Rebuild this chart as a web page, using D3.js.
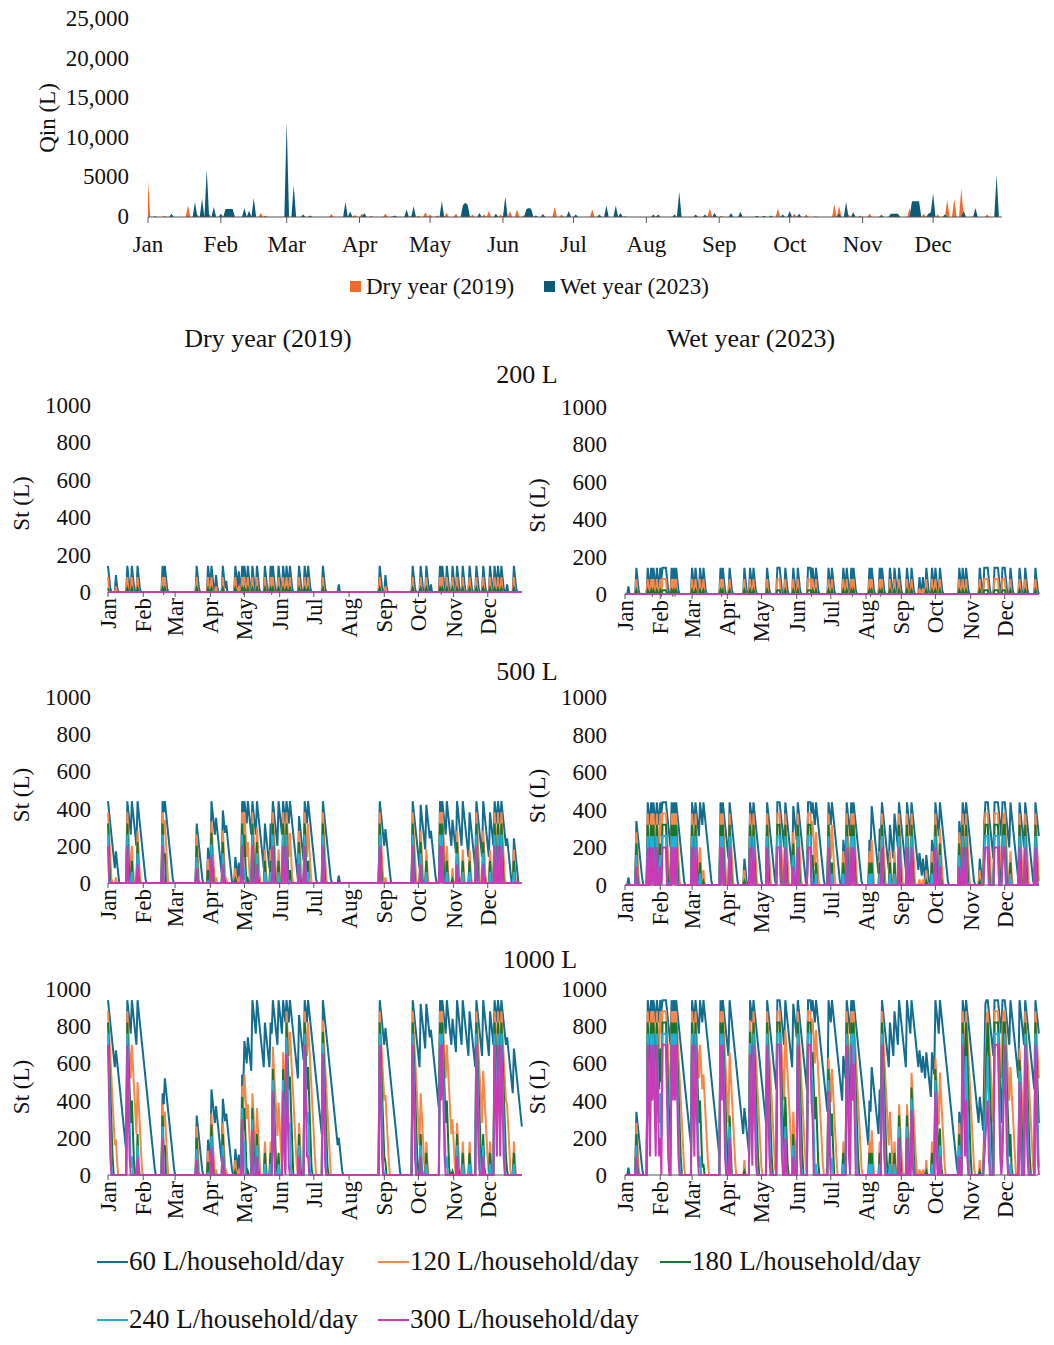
<!DOCTYPE html>
<html><head><meta charset="utf-8">
<script src="https://cdn.jsdelivr.net/npm/d3@7"></script>
<style>body{margin:0;background:#fff}text{font-family:"Liberation Serif","Times New Roman",serif;fill:#111}</style>
</head><body><svg id="c" width="1054" height="1345"></svg>
<script>
// daily inflow events: [dayOfYear, litres]
var dryEvents = [[0,4600],[7,150],[17,1450],[21,300],[26,400],[48,500],[50,200],[78,380],[88,250],[91,450],[95,150],[101,400],[104,100],[112,200],[115,150],
  [118,600],[120,300],[123,200],[127,540],[131,400],[138,300],[143,300],[145,750],[150,300],[154,750],[157,950],[160,250],[168,400],[173,1250],[176,300],[189,950],[203,100],
  [239,1100],[244,150],[268,1100],[275,400],[280,300],[284,100],[292,1600],[294,1400],[298,300],[303,200],[307,400],[312,300],[318,300],[324,1150],[330,400],[336,300],[340,2200],[343,2300],[346,3600],[351,100],[357,300]];
var wetEvents = [[3,100],[10,400],[20,1900],[23,2300],[25,6000],[28,1250],[31,400],[33,1000],[34,1000],[35,1000],[36,1000],[41,1150],[43,800],[45,2400],[59,12100],[62,4000],[66,300],[69,200],
  [84,1900],[86,700],[92,500],[105,200],[110,950],[113,1350],[125,2000],[134,1500],[135,1800],[136,1500],[141,500],[148,400],[152,2600],[161,1000],[162,1150],[163,1000],[165,200],[168,300],
  [179,750],[182,300],[192,300],[195,1450],[199,1450],[201,500],[215,300],[217,300],[224,300],[226,3200],[233,300],[237,300],[241,500],[248,500],[252,650],[259,150],[262,150],[265,200],
  [270,300],[273,750],[277,400],[294,400],[297,1900],[300,600],[312,200],[316,400],[317,400],[318,400],[319,400],[325,2000],[326,2000],[327,2000],[328,2000],[332,400],[333,600],[334,3000],[339,300],[347,800],[352,1150],[361,5300]];
var months = ["Jan","Feb","Mar","Apr","May","Jun","Jul","Aug","Sep","Oct","Nov","Dec"];
var monthStart = [0,31,59,90,120,151,181,212,243,273,304,334];
var demands = [60,120,180,240,300];
var demandColors = ["#136d8f","#f7884a","#12782f","#1fb2de","#c93bb5"];
var tanks = [200,500,1000];
var qinTicks = [0,5000,10000,15000,20000,25000];
var qinTickLabels = ["0","5000","10,000","15,000","20,000","25,000"];
var stTicks = [0,200,400,600,800,1000];

function daily(ev){var a=new Array(365).fill(0);ev.forEach(function(e){a[e[0]]+=e[1];});return a;}
var qin = {dry: daily(dryEvents), wet: daily(wetEvents)};
// tank water balance: fill with inflow up to capacity, then draw daily demand
function storage(q, cap, d){var s=0;return q.map(function(v){s=Math.max(0,Math.min(cap,s+v)-d);return s;});}

var svg = d3.select("#c");
var days = d3.range(365);

// ---- top inflow chart
var x0 = d3.scaleLinear().domain([0,365]).range([148,1006]);
var y0 = d3.scaleLinear().domain([0,25000]).range([217,19]);
[["dry","#f26b2a"],["wet","#0b5a78"]].forEach(function(p){
  svg.append("path").datum(days)
    .attr("d", d3.area().x(function(d){return x0(d);}).y0(y0(0)).y1(function(d){return y0(qin[p[0]][d]);}))
    .attr("fill", p[1]);
});
svg.append("line").attr("x1",148).attr("x2",1002).attr("y1",217).attr("y2",217).attr("stroke","#555").attr("stroke-width",1.2);
monthStart.forEach(function(m,i){
  svg.append("line").attr("x1",x0(m)).attr("x2",x0(m)).attr("y1",217).attr("y2",223).attr("stroke","#555");
  svg.append("text").attr("x",x0(m)).attr("y",252).attr("text-anchor","middle").attr("font-size",23).text(months[i]);
});
qinTicks.forEach(function(t,i){
  svg.append("text").attr("x",129).attr("y",y0(t)+7).attr("text-anchor","end").attr("font-size",23).text(qinTickLabels[i]);
});
svg.append("text").attr("transform","translate(55,118) rotate(-90)").attr("text-anchor","middle").attr("font-size",23).text("Qin (L)");
svg.append("rect").attr("x",350).attr("y",281).attr("width",11).attr("height",11).attr("fill","#f26b2a");
svg.append("text").attr("x",366).attr("y",294).attr("font-size",23).text("Dry year (2019)");
svg.append("rect").attr("x",544).attr("y",281).attr("width",11).attr("height",11).attr("fill","#0b5a78");
svg.append("text").attr("x",560).attr("y",294).attr("font-size",23).text("Wet year (2023)");

// ---- storage panels
svg.append("text").attr("x",268).attr("y",347).attr("text-anchor","middle").attr("font-size",26).text("Dry year (2019)");
svg.append("text").attr("x",751).attr("y",347).attr("text-anchor","middle").attr("font-size",26).text("Wet year (2023)");
var rows = [{top:405,bot:592,title:"200 L",tx:527,ty:383},{top:697,bot:883,title:"500 L",tx:527,ty:680},{top:989,bot:1175,title:"1000 L",tx:540,ty:968}];
var cols = [{key:"dry",x1:108,x2:523,ax:91,lab:27},{key:"wet",x1:625,x2:1040,ax:607,lab:543}];
rows.forEach(function(r,ri){
  svg.append("text").attr("x",r.tx).attr("y",r.ty).attr("text-anchor","middle").attr("font-size",26).text(r.title);
  cols.forEach(function(c){
    var top = r.top + (c.key=="wet" && ri==0 ? 2 : 0), bot = r.bot + (c.key=="wet" && ri<2 ? 2 : 0);
    var x = d3.scaleLinear().domain([0,365]).range([c.x1,c.x2]);
    var y = d3.scaleLinear().domain([0,1000]).range([bot,top]);
    stTicks.forEach(function(t){
      svg.append("text").attr("x",c.ax).attr("y",y(t)+8).attr("text-anchor","end").attr("font-size",23).text(t);
    });
    svg.append("text").attr("transform","translate("+(c.lab+2)+","+((top+bot)/2+5)+") rotate(-90)").attr("text-anchor","middle").attr("font-size",23).text("St (L)");
    svg.append("line").attr("x1",c.x1).attr("x2",c.x2-2).attr("y1",bot).attr("y2",bot).attr("stroke","#555");
    demands.forEach(function(d,di){
      var s = storage(qin[c.key], tanks[ri], d);
      svg.append("path").datum(s)
        .attr("d", d3.line().x(function(v,i){return x(i);}).y(function(v){return y(v);}))
        .attr("fill","none").attr("stroke",demandColors[di]).attr("stroke-width",2);
    });
    monthStart.forEach(function(m,i){
      svg.append("line").attr("x1",x(m)).attr("x2",x(m)).attr("y1",bot).attr("y2",bot+5).attr("stroke","#555");
      svg.append("text").attr("transform","translate("+(x(m)+8)+","+(bot+6)+") rotate(-90)").attr("text-anchor","end").attr("font-size",23).text(months[i]);
    });
  });
});

// ---- legend
var leg = [[97,1270],[378,1270],[660,1270],[97,1328],[378,1328]];
demands.forEach(function(d,i){
  svg.append("line").attr("x1",leg[i][0]).attr("x2",leg[i][0]+31).attr("y1",leg[i][1]-8).attr("y2",leg[i][1]-8).attr("stroke",demandColors[i]).attr("stroke-width",2);
  svg.append("text").attr("x",leg[i][0]+32).attr("y",leg[i][1]).attr("font-size",27).text(d+" L/household/day");
});
</script></body></html>
